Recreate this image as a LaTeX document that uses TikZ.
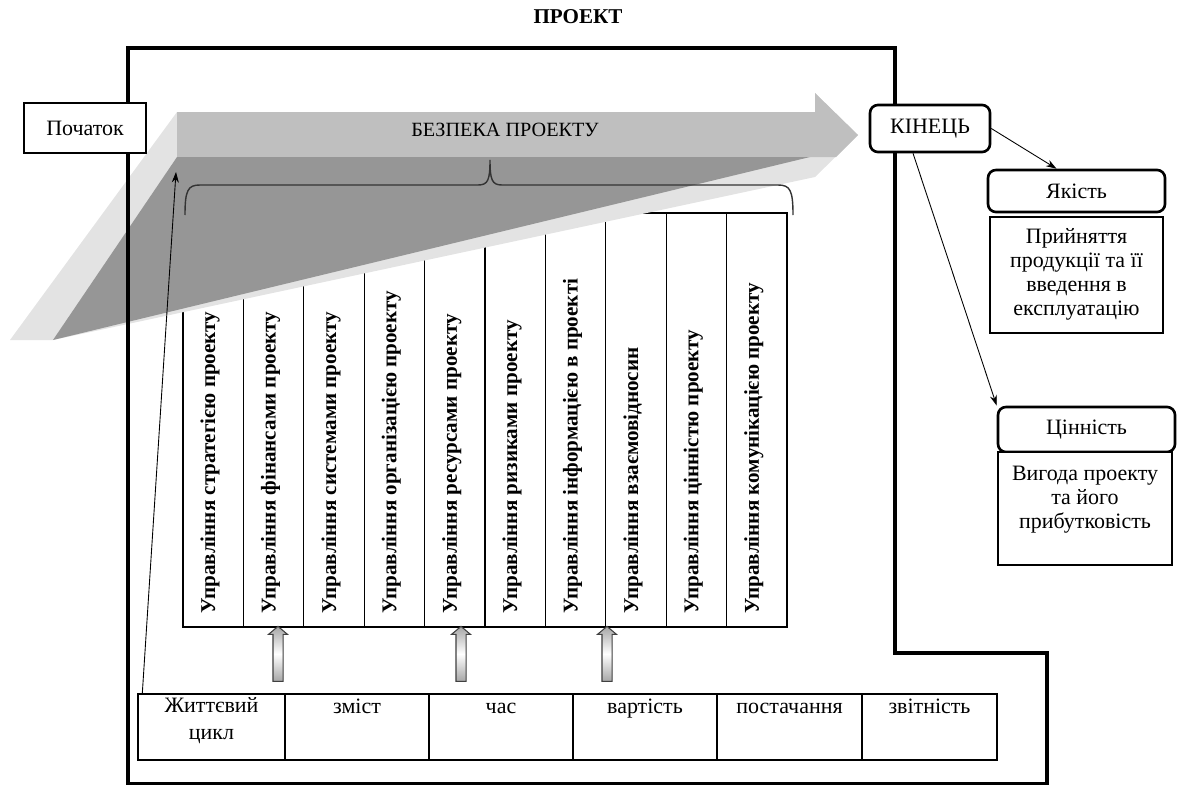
\documentclass[tikz,border=0pt]{standalone}
\usepackage{fontspec}
\setmainfont{Liberation Serif}
\usetikzlibrary{positioning,shapes.arrows,arrows.meta}

\begin{document}
\begin{tikzpicture}[x=0.02cm,y=-0.02cm,
	box/.style={draw,line width=1.5pt,fill=white,inner sep=0pt,font=\fontsize{12.5}{14}\selectfont},
	rbox/.style={box,rounded corners=4.5pt},
	col/.style={draw,line width=0.7pt,minimum width=1.208cm,minimum height=8.28cm,inner sep=0pt},
	coltext/.style={rotate=90,anchor=west,inner sep=0pt,font=\bfseries\fontsize{12}{14}\selectfont},
	cell/.style={draw,line width=0.8pt,minimum height=1.32cm,inner sep=0pt},
	celltext/.style={anchor=north,align=center,inner sep=0pt,font=\fontsize{12.5}{15}\selectfont,execute at begin node=\strut},
	uparrow/.style={single arrow,rotate=90,draw=black!75,line width=0.6pt,top color=gray!70,bottom color=gray!70,middle color=white,minimum height=1.1cm,inner xsep=0pt,inner ysep=0.09cm,single arrow head extend=0.09cm,single arrow tip angle=100},
	link/.style={-{Stealth[length=6pt,width=4pt]},line width=0.5pt},
	frame/.style={line width=1.8pt}]
	\useasboundingbox (0,0) rectangle (1182,784);
	\foreach \t [count=\i] in {Управління стратегією проекту,Управління фінансами  проекту,Управління системами проекту,Управління організацією проекту,Управління ресурсами проекту,Управління ризиками проекту,Управління інформацією в проекті,Управління взаємовідносин,Управління цінністю проекту,Управління комунікацією проекту}{
		\node[col] (c\i) at ({183+60.4*(\i-0.5)},420) {};
		\node[coltext] (ct\i) at ([xshift=-0.06cm,yshift=0.28cm]c\i.south) {\t};
	}
	\fill[gray!22] (177,112) -- (815,112) -- (815,93) -- (858,135) -- (815,177) -- (53,340) -- (10,340) -- cycle;
	\fill[gray!50] (177,112) -- (815,112) -- (815,93) -- (858,135) -- (836,157) -- (177,157) -- cycle;
	\fill[gray!82] (177,157) -- (810,157) -- (53,340) -- cycle;
	\node[font=\fontsize{11.5}{14}\selectfont] (safety) at (505,130) {БЕЗПЕКА ПРОЕКТУ};
	\draw[line width=0.8pt,black!80] (185,215) .. controls (185,190) and (188,185) .. (200,185) -- (478,185) .. controls (488,185) and (490,180) .. (490,160) .. controls (490,180) and (492,185) .. (502,185) -- (778,185) .. controls (790,185) and (793,190) .. (793,215);
	\node[font=\bfseries\fontsize{12}{14}\selectfont] (title) at (578,17) {ПРОЕКТ};
	\draw[frame] (128,783.5) -- (128,48) -- (895,48) -- (895,653) -- (1047,653) -- (1047,783.5) -- cycle;
	\foreach \cx/\cw/\dy/\ct [count=\i] in {211.5/2.94/-0.08/{Життєвий\\цикл},357/2.88/-0.02/зміст,501/2.88/-0.02/час,645/2.88/-0.02/вартість,789.5/2.9/-0.02/постачання,929.5/2.7/-0.02/звітність}{
		\node[cell,minimum width=\cw cm] (t\i) at (\cx,727) {};
		\node[celltext] (tt\i) at ([yshift=\dy cm]t\i.north) {\ct};
	}
	\node[uparrow] (ua1) at (278,656) {};
	\node[uparrow] (ua2) at (461,656) {};
	\node[uparrow] (ua3) at (607,656) {};
	\coordinate (arrtip) at (176,172);
	\draw[link] ([xshift=0.1cm]t1.north west) -- (arrtip);
	\node[box,minimum width=2.44cm,minimum height=1cm] (start) at (85,128) {Початок};
	\node[rbox,minimum width=2.4cm,minimum height=0.94cm] (end) at (930,128.5) {КІНЕЦЬ};
	\node[rbox,minimum width=3.54cm,minimum height=0.84cm] (quality) at (1076.5,191) {Якість};
	\node[box,minimum width=3.46cm,minimum height=2.32cm] (qbox) at (1076.5,275) {};
	\node[celltext,font=\fontsize{12.5}{13.8}\selectfont,execute at begin node={}] (qtext) at ([yshift=-0.24cm]qbox.north) {Прийняття\\продукції та її\\введення в\\експлуатацію};
	\node[rbox,minimum width=3.54cm,minimum height=0.9cm] (value) at (1086.5,429.5) {Цінність};
	\node[box,minimum width=3.48cm,minimum height=2.26cm] (vbox) at (1085,508.5) {};
	\node[celltext,font=\fontsize{12.5}{13.8}\selectfont,execute at begin node={}] (vtext) at ([yshift=-0.3cm]vbox.north) {Вигода проекту\\та його\\прибутковість};
	\draw[link] (end.east) -- ([xshift=-0.4cm]quality.north);
	\draw[link] ([xshift=-0.34cm]end.south) -- (value.north west);
\end{tikzpicture}
\end{document}
